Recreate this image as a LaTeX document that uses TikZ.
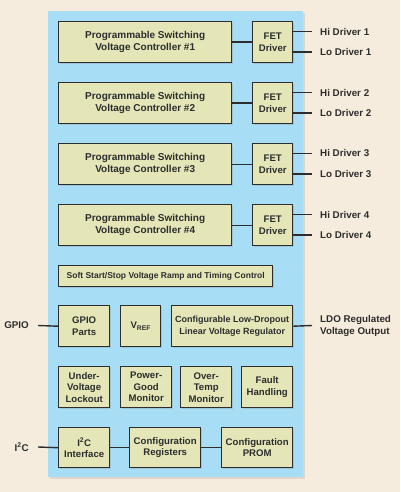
\documentclass[tikz,border=0pt]{standalone}
\usepackage{fontspec}
\setmainfont{Liberation Sans}
\usetikzlibrary{shadows}
\definecolor{bgc}{RGB}{246,236,221}
\definecolor{panelc}{RGB}{168,221,246}
\definecolor{boxc}{RGB}{228,230,184}
\definecolor{inkc}{RGB}{45,45,45}
\begin{document}
\begin{tikzpicture}[x=1pt,y=-1pt,
  blk/.style={draw=inkc, line width=1.4pt, fill=boxc, align=center,
    font=\bfseries\fontsize{9.6}{11.5}\selectfont, text=inkc, inner sep=0pt,
    anchor=north west, drop shadow={shadow xshift=1.2pt, shadow yshift=-1.2pt, opacity=0.25}},
  panel/.style={fill=panelc, inner sep=0pt, anchor=north west,
    drop shadow={shadow xshift=2pt, shadow yshift=-2pt, opacity=0.2}},
  wire/.style={draw=inkc, line width=1.4pt},
  lbl/.style={font=\bfseries\fontsize{9.8}{12}\selectfont, text=inkc, inner sep=0pt, inner xsep=8pt, anchor=west, align=left},
  lbll/.style={font=\bfseries\fontsize{9.8}{12}\selectfont, text=inkc, inner sep=0pt, inner xsep=9pt, anchor=east}]
\useasboundingbox[fill=bgc] (0,0) rectangle (400,492);
\node[panel, minimum width=255pt, minimum height=466pt] (panel) at (48,11) {};
% controllers and FET drivers
\foreach \i/\yy in {1/21,2/82,3/143,4/204}{
  \node[blk, minimum width=173pt, minimum height=41pt, font=\bfseries\fontsize{10}{12}\selectfont] (c\i) at (58,\yy) {Programmable Switching\\Voltage Controller \#\i};
  \node[blk, minimum width=40pt, minimum height=41pt] (f\i) at (252,\yy) {FET\\Driver};
  \draw[wire] (c\i.east) -- (f\i.west);
  \node[lbl] (h\i) at (312,\yy+10.5) {Hi Driver \i};
  \node[lbl] (l\i) at (312,\yy+31) {Lo Driver \i};
  \draw[wire] (f\i.east |- h\i.west) -- (h\i.west);
  \draw[wire] (f\i.east |- l\i.west) -- (l\i.west);
}
\node[blk, minimum width=214pt, minimum height=21pt, font=\bfseries\fontsize{8.5}{10}\selectfont] (soft) at (58,265) {Soft Start/Stop Voltage Ramp and Timing Control};
% GPIO row
\node[blk, minimum width=51pt, minimum height=41pt] (gp) at (58,305) {GPIO\\Parts};
\node[blk, minimum width=40pt, minimum height=41pt] (vref) at (120,305) {V\textsubscript{REF}};
\node[blk, minimum width=121pt, minimum height=41pt, font=\bfseries\fontsize{9}{11.5}\selectfont] (ldo) at (171,305) {Configurable Low-Dropout\\Linear Voltage Regulator};
\node[lbll] (gpio) at (38,325.5) {GPIO};
\draw[wire] (gpio.east) -- (gp.west);
\node[lbl] (ldoout) at (312,325.5) {LDO Regulated\\Voltage Output};
\draw[wire] (ldo.east) -- (ldoout.west);
% monitors row
\node[blk, minimum width=51pt, minimum height=41pt] (uv) at (58,366) {Under-\\Voltage\\Lockout};
\node[blk, minimum width=51pt, minimum height=41pt] (pg) at (120,366) {Power-\\Good\\Monitor};
\node[blk, minimum width=51pt, minimum height=41pt] (ot) at (180,366) {Over-\\Temp\\Monitor};
\node[blk, minimum width=51pt, minimum height=41pt] (fh) at (241,366) {Fault\\Handling};
% I2C row
\node[blk, minimum width=51pt, minimum height=40pt] (i2c) at (58,427) {I\textsuperscript{2}C\\Interface};
\node[blk, minimum width=71pt, minimum height=40pt] (cr) at (129,427) {Configuration\\Registers};
\node[blk, minimum width=71pt, minimum height=40pt] (prom) at (221,427) {Configuration\\PROM};
\node[lbll] (i2cl) at (38,447) {I\textsuperscript{2}C};
\draw[wire] (i2cl.east) -- (i2c.west);
\draw[wire] (i2c.east) -- (cr.west);
\draw[wire] (cr.east) -- (prom.west);
\end{tikzpicture}
\end{document}
